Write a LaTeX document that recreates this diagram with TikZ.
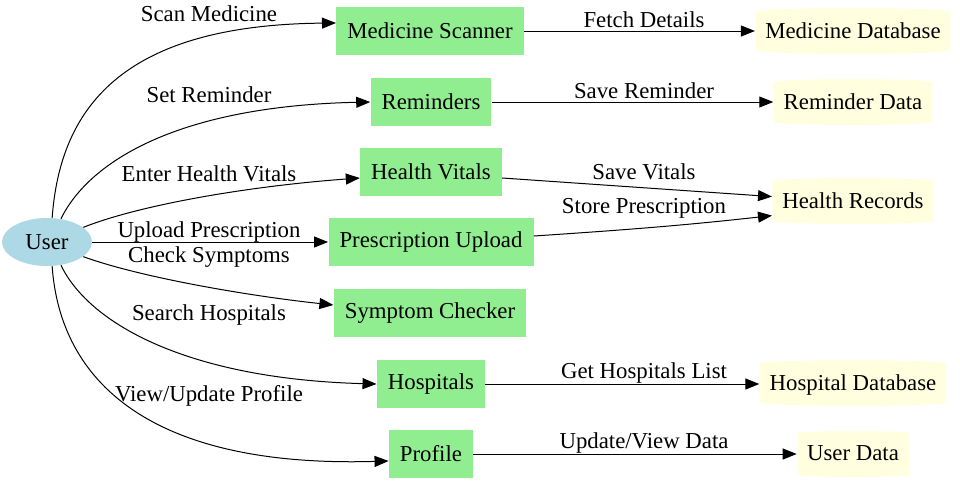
\documentclass[tikz,border=0pt]{standalone}
\usepackage{fontspec}
\setmainfont{Liberation Serif}
\usetikzlibrary{arrows.meta,shapes.geometric}
\definecolor{lightgreen}{HTML}{90EE90}
\definecolor{lightblue}{HTML}{ADD8E6}
\definecolor{lightyellow}{HTML}{FFFFE0}
\tikzset{
  proc/.style={fill=lightgreen, rectangle, inner xsep=5.5pt, minimum height=24pt},
  store/.style={fill=lightyellow, cylinder, shape border rotate=90, aspect=0.04,
                anchor=shape center, text height=8pt, text depth=3.2pt,
                inner xsep=5pt, minimum height=23pt},
  actor/.style={fill=lightblue, ellipse, inner sep=0pt, minimum width=45pt, minimum height=24pt},
  lbl/.style={inner sep=0pt},
  flow/.style={-{Triangle[length=7pt,width=5.5pt]}, line width=0.5pt}
}
\begin{document}
\begin{tikzpicture}[x=0.5pt,y=-0.5pt,font=\fontsize{11.4}{13}\selectfont]
    \useasboundingbox (0,0) rectangle (960,483);
    % User
    \node[actor] (user) at (47,242) {User};
    % Processes
    \node[proc] (scan)   at (430,31)  {Medicine Scanner};
    \node[proc] (rem)    at (431,102) {Reminders};
    \node[proc] (vitals) at (431,172) {Health Vitals};
    \node[proc] (presc)  at (431,242) {Prescription Upload};
    \node[proc] (symp)   at (430,313) {Symptom Checker};
    \node[proc] (hosp)   at (431,384) {Hospitals};
    \node[proc] (prof)   at (431,454) {Profile};
    % Data stores
    \node[store] (mdb)   at (853,31)  {Medicine Database};
    \node[store] (rdata) at (853,102) {Reminder Data};
    \node[store] (hrec)  at (853,201) {Health Records};
    \node[store] (hdb)   at (853,383) {Hospital Database};
    \node[store] (udata) at (853,454) {User Data};

    % User to processes
    \draw[flow] (user.78) .. controls +(8,-108) and +(-216,2) .. ([yshift=4pt]scan.west);
    \draw[flow] (user.59) .. controls +(29,-59) and +(-189,4) .. (rem.west);
    \draw[flow] (user.22) .. controls +(58,-23) and +(-109,8) .. ([yshift=-3pt]vitals.west);
    \draw[flow] (user.east) -- (presc.west);
    \draw[flow] (user.-22) .. controls +(58,21) and +(-84,-9) .. ([yshift=4pt]symp.west);
    \draw[flow] (user.-59) .. controls +(29,60) and +(-186,-5) .. (hosp.west);
    \draw[flow] (user.-78) .. controls +(8,114) and +(-240,7) .. ([yshift=-3.5pt]prof.west);

    % Processes to stores
    \draw[flow] (scan.east) -- (scan.east -| mdb.west);
    \draw[flow] (rem.east) -- (rem.east -| rdata.west);
    \draw[flow] ([yshift=-3pt]vitals.east) -- ([yshift=3.5pt]hrec.west);
    \draw[flow] ([yshift=3pt]presc.east) .. controls +(90,-6) and +(-90,10) .. ([yshift=-6pt]hrec.west);
    \draw[flow] (hosp.east) -- (hosp.east -| hdb.west);
    \draw[flow] (prof.east) -- (prof.east -| udata.west);

    % Labels
    \node[lbl] (lscan)   at (209,14)  {Scan Medicine};
    \node[lbl] (lrem)    at (209,95)  {Set Reminder};
    \node[lbl] (lvitals) at (209,174) {Enter Health Vitals};
    \node[lbl] (lpresc)  at (209,232) {Upload Prescription};
    \node[lbl] (lsymp)   at (209,257) {Check Symptoms};
    \node[lbl] (lhosp)   at (209,315) {Search Hospitals};
    \node[lbl] (lprof)   at (209,396) {View/Update Profile};

    \node[lbl] (lfetch)  at (644,20)  {Fetch Details};
    \node[lbl] (lsrem)   at (644,91)  {Save Reminder};
    \node[lbl] (lsvit)   at (644,172) {Save Vitals};
    \node[lbl] (lstore)  at (644,208) {Store Prescription};
    \node[lbl] (lget)    at (644,373) {Get Hospitals List};
    \node[lbl] (lupd)    at (644,443) {Update/View Data};
\end{tikzpicture}
\end{document}
